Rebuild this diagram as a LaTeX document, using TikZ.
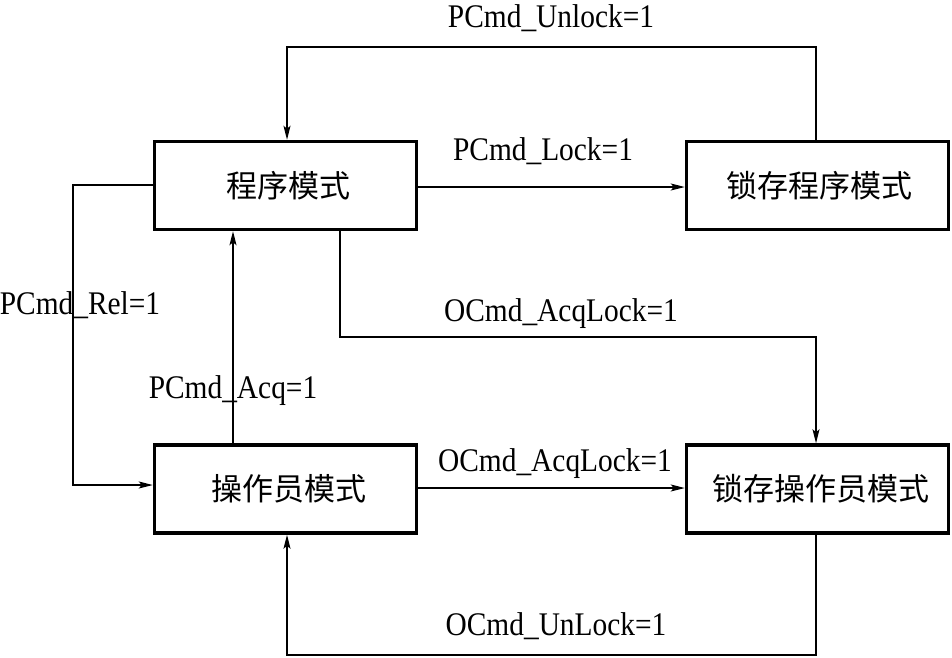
\documentclass[tikz,border=0pt]{standalone}
\usepackage{fontspec}
\usepackage{graphicx}
\setmainfont{Liberation Serif}
\newfontfamily\cjk{Noto Sans CJK SC}
\usetikzlibrary{arrows.meta}
\newcommand{\tallt}[1]{\scalebox{0.98}[1.1]{#1}}
\begin{document}
\begin{tikzpicture}[x=1pt,y=-1pt,
  box/.style={draw,line width=3.5pt,minimum width=262pt,minimum height=88pt,inner sep=0pt,
    font=\cjk\fontsize{31}{36}\selectfont},
  conn/.style={line width=1.3pt,-{Stealth[length=14pt,width=7pt,inset=3pt]}},
  lbl/.style={font=\fontsize{30}{36}\selectfont,inner sep=0pt,anchor=base}]
\useasboundingbox (0,0) rectangle (952,657);
% boxes
\node[box] (A) at (285.5,185.5) {\hspace{6pt}程序模式};
\node[box] (B) at (817.5,185.5) {\hspace{4pt}锁存程序模式};
\node[box] (C) at (285.5,489) {\hspace{6pt}操作员模式};
\node[box] (D) at (817.5,489) {\hspace{6pt}锁存操作员模式};
% helper coordinates
\coordinate (xL) at (73,0);
\coordinate (xA1) at (287,0);
\coordinate (xB1) at (816,0);
\coordinate (xAcq) at (233,0);
\coordinate (xAq) at (340,0);
\coordinate (yTop) at (0,47);
\coordinate (yMid) at (0,337);
\coordinate (yBot) at (0,655);
\coordinate (yAB) at (0,187);
\coordinate (yCD) at (0,488);
\coordinate (yRel) at (0,185);
\coordinate (yRel2) at (0,485);
% connectors
\draw[conn] (A.east |- yAB) -- (B.west |- yAB);
\draw[conn] (C.east |- yCD) -- (D.west |- yCD);
\draw[conn] (B.north -| xB1) -- (xB1 |- yTop) -- (xA1 |- yTop) -- (A.north -| xA1);
\draw[conn] (D.south -| xB1) -- (xB1 |- yBot) -- (xA1 |- yBot) -- (C.south -| xA1);
\draw[conn] (A.west |- yRel) -- (xL |- yRel) -- (xL |- yRel2) -- (C.west |- yRel2);
\draw[conn] (C.north -| xAcq) -- (A.south -| xAcq);
\draw[conn] (A.south -| xAq) -- (xAq |- yMid) -- (xB1 |- yMid) -- (D.north -| xB1);
% labels
\node[lbl] (l1) at (551,27) {\tallt{PCmd\_Unlock=1}};
\node[lbl] (l2) at (543,160) {\tallt{PCmd\_Lock=1}};
\node[lbl] (l3) at (80,314) {\tallt{PCmd\_Rel=1}};
\node[lbl] (l4) at (233,398) {\tallt{PCmd\_Acq=1}};
\node[lbl] (l5) at (561,321) {\tallt{OCmd\_AcqLock=1}};
\node[lbl] (l6) at (555,471) {\tallt{OCmd\_AcqLock=1}};
\node[lbl] (l7) at (556,635) {\tallt{OCmd\_UnLock=1}};
\end{tikzpicture}
\end{document}
